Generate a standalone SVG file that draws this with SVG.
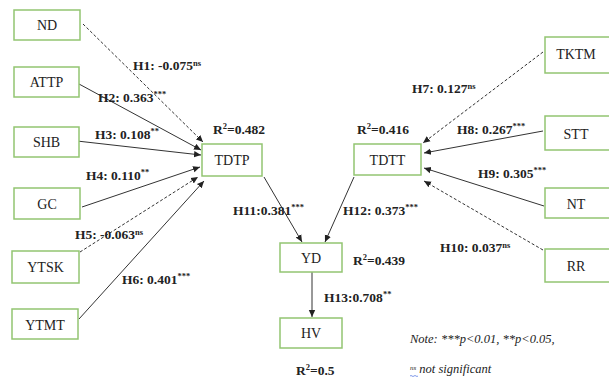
<svg xmlns="http://www.w3.org/2000/svg" width="609" height="379" viewBox="0 0 609 379">
<style>
.box{fill:#fff;stroke:#93c572;stroke-width:1.5}
.nl{font-family:"Liberation Serif","Times New Roman",serif;font-size:14px;fill:#222;text-anchor:middle}
.lb{font-family:"Liberation Serif","Times New Roman",serif;font-size:13.5px;font-weight:bold;fill:#222}
.sup{font-size:8.5px}
.ln{stroke:#333;stroke-width:1;fill:none;marker-end:url(#ah)}
.dsh{stroke-dasharray:3,2}
.note{font-family:"Liberation Serif","Times New Roman",serif;font-size:12.5px;font-style:italic;fill:#222}
</style>
<defs>
<marker id="ah" markerWidth="8" markerHeight="8" refX="7" refY="4" orient="auto" markerUnits="userSpaceOnUse">
<path d="M0,0.8 L7,4 L0,7.2 Z" fill="#222"/>
</marker>
</defs>
<rect width="609" height="379" fill="#fff"/>
<g id="connectors">
<line class="ln dsh" x1="83" y1="24" x2="203" y2="142"/>
<line class="ln" x1="79" y1="84" x2="201" y2="150"/>
<line class="ln" x1="77" y1="141" x2="201" y2="155"/>
<line class="ln" x1="82" y1="207" x2="200" y2="167"/>
<line class="ln dsh" x1="80" y1="252" x2="198" y2="177"/>
<line class="ln" x1="79" y1="319" x2="204" y2="181"/>
<line class="ln dsh" x1="543" y1="52" x2="423" y2="143"/>
<line class="ln" x1="543" y1="131" x2="424" y2="153"/>
<line class="ln" x1="544" y1="206" x2="424" y2="168"/>
<line class="ln dsh" x1="543" y1="250" x2="424" y2="181"/>
<line class="ln" x1="264" y1="177" x2="302" y2="242"/>
<line class="ln" x1="354" y1="177" x2="325" y2="242"/>
<line class="ln" x1="312" y1="272" x2="312" y2="317"/>
</g>
<g id="ND"><rect class="box" x="14" y="10" width="66" height="30"/><text class="nl" x="47" y="30">ND</text></g>
<g id="ATTP"><rect class="box" x="14" y="67" width="65" height="30"/><text class="nl" x="46.5" y="87">ATTP</text></g>
<g id="SHB"><rect class="box" x="14" y="127" width="65" height="30"/><text class="nl" x="46.5" y="147">SHB</text></g>
<g id="GC"><rect class="box" x="14" y="188" width="66" height="31"/><text class="nl" x="47" y="209">GC</text></g>
<g id="YTSK"><rect class="box" x="12" y="251" width="67" height="32"/><text class="nl" x="45.5" y="272">YTSK</text></g>
<g id="YTMT"><rect class="box" x="12" y="309" width="66" height="30"/><text class="nl" x="45" y="330">YTMT</text></g>
<g id="TDTP"><rect class="box" x="202" y="144" width="60" height="32"/><text class="nl" x="232" y="165">TDTP</text></g>
<g id="TDTT"><rect class="box" x="354" y="144" width="67" height="31"/><text class="nl" x="387.5" y="165">TDTT</text></g>
<g id="YD"><rect class="box" x="280" y="243" width="62" height="29"/><text class="nl" x="311" y="263">YD</text></g>
<g id="HV"><rect class="box" x="280" y="318" width="62" height="30"/><text class="nl" x="311" y="338">HV</text></g>
<g id="TKTM"><rect class="box" x="545" y="37" width="66" height="36"/><text class="nl" x="576" y="59">TKTM</text></g>
<g id="STT"><rect class="box" x="545" y="116" width="66" height="34"/><text class="nl" x="576" y="139">STT</text></g>
<g id="NT"><rect class="box" x="545" y="188" width="66" height="30"/><text class="nl" x="576" y="209">NT</text></g>
<g id="RR"><rect class="box" x="545" y="249" width="66" height="33"/><text class="nl" x="576" y="271">RR</text></g>
<g id="labels">
<text class="lb" x="133" y="70">H1: -0.075<tspan class="sup" dy="-4">ns</tspan></text>
<text class="lb" x="98" y="102">H2: 0.363<tspan class="sup" dy="-5">***</tspan></text>
<text class="lb" x="95" y="139">H3: 0.108<tspan class="sup" dy="-5">**</tspan></text>
<text class="lb" x="86" y="180">H4: 0.110<tspan class="sup" dy="-5">**</tspan></text>
<text class="lb" x="75" y="239">H5: -0.063<tspan class="sup" dy="-4">ns</tspan></text>
<text class="lb" x="122" y="284">H6: 0.401<tspan class="sup" dy="-5">***</tspan></text>
<text class="lb" x="412" y="93">H7: 0.127<tspan class="sup" dy="-4">ns</tspan></text>
<text class="lb" x="457" y="134">H8: 0.267<tspan class="sup" dy="-5">***</tspan></text>
<text class="lb" x="478" y="178">H9: 0.305<tspan class="sup" dy="-5">***</tspan></text>
<text class="lb" x="440" y="252">H10: 0.037<tspan class="sup" dy="-4">ns</tspan></text>
<text class="lb" x="233" y="215">H11:0.381<tspan class="sup" dy="-5">***</tspan></text>
<text class="lb" x="343" y="215">H12: 0.373<tspan class="sup" dy="-5">***</tspan></text>
<text class="lb" x="324" y="302">H13:0.708<tspan class="sup" dy="-5">**</tspan></text>
<text class="lb" x="213" y="134">R<tspan class="sup" dy="-5">2</tspan><tspan dy="5">=0.482</tspan></text>
<text class="lb" x="357" y="134">R<tspan class="sup" dy="-5">2</tspan><tspan dy="5">=0.416</tspan></text>
<text class="lb" x="353" y="265">R<tspan class="sup" dy="-5">2</tspan><tspan dy="5">=0.439</tspan></text>
<text class="lb" x="296" y="375">R<tspan class="sup" dy="-5">2</tspan><tspan dy="5">=0.5</tspan></text>
<text class="note" x="410" y="343">Note: ***p&lt;0.01, **p&lt;0.05,</text>
<text class="note" x="410" y="373"><tspan font-size="7" dy="-3">ns</tspan><tspan dy="3"> not significant</tspan></text>
<path d="M410,376 q1,-1 2,0 t2,0 t2,0 t2,0" stroke="#4a6fe0" stroke-width="0.7" fill="none"/>
</g>
</svg>
